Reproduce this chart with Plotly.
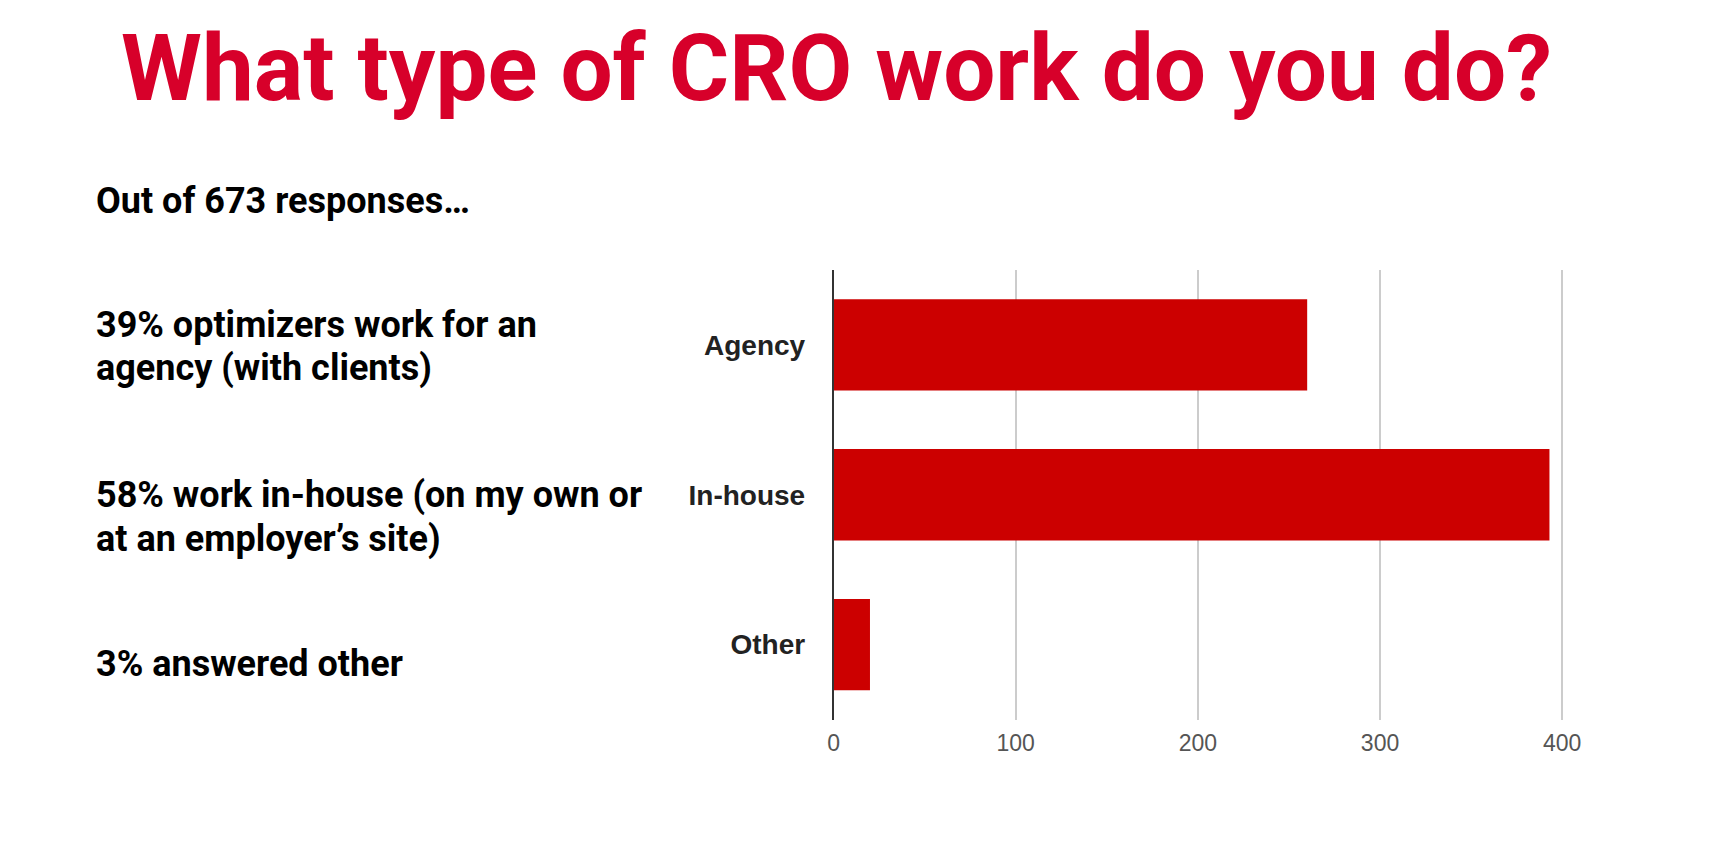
import plotly.graph_objects as go

W, H = 1723, 854

categories = ["Agency", "In-house", "Other"]
responses = [260, 393, 20]
x_ticks = [0, 100, 200, 300, 400]

title_text = "What type of CRO work do you do?"
side_lines = [
    "Out of 673 responses…",
    "39% optimizers work for an",
    "agency (with clients)",
    "58% work in-house (on my own or",
    "at an employer’s site)",
    "3% answered other",
]
side_centers = [201, 325, 368, 495, 539, 664]

def py(pix):
    return 1 - pix / H

def px(pix):
    return pix / W

fig = go.Figure()
fig.add_trace(go.Bar(
    x=responses, y=categories, orientation="h",
    marker=dict(color="#cc0000", line=dict(width=0)),
    width=0.61, hoverinfo="skip",
))

annotations = [dict(
    text=title_text, xref="paper", yref="paper",
    x=px(114), y=py(69), xanchor="left", yanchor="middle",
    showarrow=False,
    font=dict(family="Roboto", size=92.5, color="#d7002a", weight="bold"),
)]
for t, c in zip(side_lines, side_centers):
    annotations.append(dict(
        text=t, xref="paper", yref="paper",
        x=px(89), y=py(c), xanchor="left", yanchor="middle",
        showarrow=False,
        font=dict(family="Roboto", size=36, color="#000000", weight="bold"),
    ))

fig.update_layout(
    width=W, height=H, autosize=False,
    margin=dict(l=0, r=0, t=0, b=0),
    paper_bgcolor="white", plot_bgcolor="white",
    showlegend=False,
    annotations=annotations,
    xaxis=dict(
        domain=[px(835.3), px(1580)],
        range=[0, 405],
        tickvals=x_ticks, ticktext=[str(v) for v in x_ticks],
        showgrid=True, gridcolor="#cccccc", gridwidth=1.5,
        zeroline=False, showline=False, ticks="",
        tickfont=dict(family="Arial", size=23, color="#555555"),
        ticklabelstandoff=7,
        fixedrange=True,
    ),
    yaxis=dict(
        domain=[py(719.5), py(270)],
        categoryorder="array", categoryarray=categories[::-1],
        showgrid=False, zeroline=False,
        showline=True, linecolor="#333333", linewidth=1.5,
        ticks="", ticklabelstandoff=21,
        tickfont=dict(family="Arial", size=28, color="#222222", weight="bold"),
        fixedrange=True,
    ),
)

fig.write_html("out.html", config={"displayModeBar": False})
